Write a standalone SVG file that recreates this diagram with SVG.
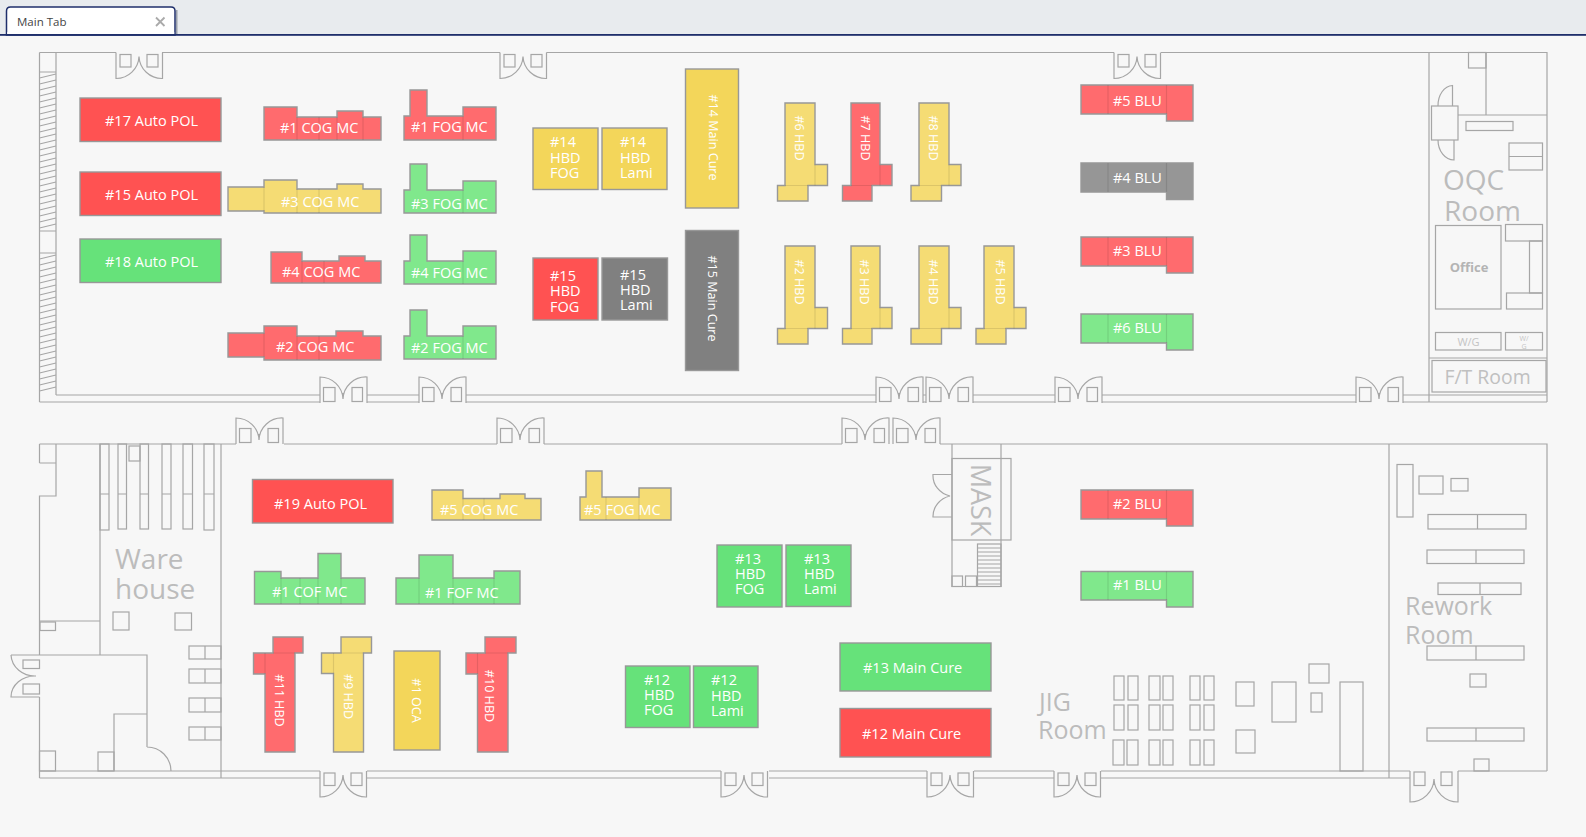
<svg xmlns="http://www.w3.org/2000/svg" xmlns:xlink="http://www.w3.org/1999/xlink" width="1586" height="837" viewBox="0 0 1586 837">
<style>
.w{fill:none;stroke:#a6a6a6;stroke-width:1.2}
.m{stroke:#989898;stroke-width:1.4}
.d{fill:none;stroke:#000;stroke-opacity:.1;stroke-width:1.2}
.r{fill:#ff5252}.r2{fill:#ff6b6e}.y{fill:#f3d65a}.y2{fill:#f5dc74}.g{fill:#66e27a}.g2{fill:#80e88c}.k{fill:#808080}.k2{fill:#969696}
text{font-family:"Open Sans","Noto Sans","Liberation Sans",sans-serif}
.t{fill:#fff;font-size:14.5px}
.v{fill:#fff;font-size:12.6px;text-anchor:middle}
.l{fill:#bcbcbc;font-size:28px}
</style>
<defs>
<g id="doorDown" class="w"><path d="M0 0V26A23 23 0 0 0 23 4M46.500 0V26A23 23 0 0 1 23 4V9"/><rect x="4" y="2" width="11" height="12.500"/><rect x="31" y="2" width="11" height="12.500"/></g>
<g id="doorUp" class="w"><path d="M0 26V0A23 23 0 0 1 23 22M47 26V0A23 23 0 0 0 23 22V16"/><rect x="3.500" y="10.500" width="11.500" height="14"/><rect x="32" y="10.500" width="10.500" height="14"/></g>
</defs>
<rect width="1586" height="837" fill="#f7f7f7"/>
<g id="tabbar">
<rect width="1586" height="34" fill="#e8ebee"/>
<path d="M6.500 35V11Q6.500 7 10.500 7H171Q175 7 175 11V35Z" fill="#fff" stroke="#1f2f6b" stroke-width="1.500"/>
<rect x="176" y="10" width="1.500" height="24" fill="#9aa0aa"/>
<rect y="34" width="1586" height="1.800" fill="#1f2f6b"/>
<rect x="7.300" y="32" width="166.900" height="2" fill="#fff"/>
<text x="17" y="26" font-size="11.500" fill="#444">Main Tab</text>
<path d="M156 17.500L164.500 26M164.500 17.500L156 26" stroke="#aaa" stroke-width="1.800" fill="none"/>
</g>
<g id="floorplan">
<g id="upper-walls" class="w">
<path d="M39.500 52.500H116M162 52.500H500M546.500 52.500H1114M1161 52.500H1547V402M39.500 52.500V402M56 52.500V395M39.500 72H56M39.500 231H56M39.500 253H56"/>
<path d="M56 395H320M367 395H419M466 395H876M923 395H926M973 395H1055M1102 395H1356M1403 395H1547"/>
<path d="M39.500 402H320M367 402H419M466 402H876M923 402H926M973 402H1055M1102 402H1356M1403 402H1547"/>
<path d="M39.500 78l16.500-4M39.500 84l16.500-4M39.500 90l16.500-4M39.500 96l16.500-4M39.500 102l16.500-4M39.500 108l16.500-4M39.500 114l16.500-4M39.500 120l16.500-4M39.500 126l16.500-4M39.500 132l16.500-4M39.500 138l16.500-4M39.500 144l16.500-4M39.500 150l16.500-4M39.500 156l16.500-4M39.500 162l16.500-4M39.500 168l16.500-4M39.500 174l16.500-4M39.500 180l16.500-4M39.500 186l16.500-4M39.500 192l16.500-4M39.500 198l16.500-4M39.500 204l16.500-4M39.500 210l16.500-4M39.500 216l16.500-4M39.500 222l16.500-4M39.500 228l16.500-4"/>
<path d="M39.500 259l16.500-4M39.500 265l16.500-4M39.500 271l16.500-4M39.500 277l16.500-4M39.500 283l16.500-4M39.500 289l16.500-4M39.500 295l16.500-4M39.500 301l16.500-4M39.500 307l16.500-4M39.500 313l16.500-4M39.500 319l16.500-4M39.500 325l16.500-4M39.500 331l16.500-4M39.500 337l16.500-4M39.500 343l16.500-4M39.500 349l16.500-4M39.500 355l16.500-4M39.500 361l16.500-4M39.500 367l16.500-4M39.500 373l16.500-4M39.500 379l16.500-4M39.500 385l16.500-4M39.500 391l16.500-4"/>
<use xlink:href="#doorDown" href="#doorDown" x="116" y="52.500"/>
<use xlink:href="#doorDown" href="#doorDown" x="500" y="52.500"/>
<use xlink:href="#doorDown" href="#doorDown" x="1114" y="52.500"/>
<use xlink:href="#doorUp" href="#doorUp" x="320" y="377"/>
<use xlink:href="#doorUp" href="#doorUp" x="419" y="377"/>
<use xlink:href="#doorUp" href="#doorUp" x="876" y="377"/>
<use xlink:href="#doorUp" href="#doorUp" x="926" y="377"/>
<use xlink:href="#doorUp" href="#doorUp" x="1055" y="377"/>
<use xlink:href="#doorUp" href="#doorUp" x="1356" y="377"/>
</g>
<g id="oqc-room" class="w">
<path d="M1429 52.500V402M1458 115H1547M1486 52.500V115M1429 358H1547"/>
<rect x="1468.500" y="52.500" width="17.500" height="15.500"/>
<rect x="1431.500" y="106" width="26.500" height="34"/>
<path d="M1452.500 106V85.500A15 20 0 0 0 1438 106M1454 140V160A16 20 0 0 1 1438 140"/>
<rect x="1466" y="121.500" width="47" height="9"/>
<rect x="1509" y="143" width="33.500" height="27"/><path d="M1509 156.500H1542.500"/>
<rect x="1435.500" y="225.500" width="65.500" height="83.500"/>
<rect x="1505.500" y="224.500" width="37" height="16.500"/>
<rect x="1529.500" y="241" width="13" height="52"/>
<rect x="1506.500" y="293" width="36" height="16"/>
<rect x="1435.500" y="332.500" width="65.500" height="17.500"/>
<rect x="1505.500" y="332.500" width="37" height="17.500"/>
<rect x="1432" y="360.500" width="114" height="31.500"/>
</g>
<text class="l" x="1443" y="190">OQC</text>
<text class="l" x="1444" y="221">Room</text>
<text x="1469" y="271.500" font-size="13" font-weight="700" fill="#b4b4b4" text-anchor="middle">Office</text>
<text x="1468.500" y="346" font-size="11" fill="#c4c4c4" text-anchor="middle">W/G</text>
<text x="1524" y="341" font-size="7" fill="#c4c4c4" text-anchor="middle">W/</text>
<text x="1524" y="348.500" font-size="7" fill="#c4c4c4" text-anchor="middle">G</text>
<text x="1444.500" y="384" font-size="19.400" fill="#c0c0c0">F/T Room</text>
<g id="lower-walls" class="w">
<path d="M39.500 444H236M284 444H497M544 444H842M940 444H1547V771M39.500 444V463M56 444V496H39.500V655M39.500 697V778M1389 444V778"/>
<path d="M39.500 771H320M367 771H721M769 771H927M974 771H1054M1101 771H1410M1458 771H1547"/>
<path d="M39.500 778H320M367 778H721M769 778H927M974 778H1054M1101 778H1410"/>
<use xlink:href="#doorUp" href="#doorUp" x="236" y="418"/>
<use xlink:href="#doorUp" href="#doorUp" x="497" y="418"/>
<use xlink:href="#doorUp" href="#doorUp" x="842" y="418"/>
<use xlink:href="#doorUp" href="#doorUp" x="893" y="418"/>
<use xlink:href="#doorDown" href="#doorDown" x="320" y="771"/>
<use xlink:href="#doorDown" href="#doorDown" x="721" y="771"/>
<use xlink:href="#doorDown" href="#doorDown" x="927" y="771"/>
<use xlink:href="#doorDown" href="#doorDown" x="1054" y="771"/>
<path d="M1410 771V802A24 24 0 0 0 1434 779M1458 771V802A24 24 0 0 1 1434 779V785"/>
<rect x="1414" y="772" width="11" height="13.500"/><rect x="1441" y="772" width="11" height="13.500"/>
</g>
<g id="warehouse" class="w">
<path d="M39.500 463H56M100 444V655M39.500 621H100M11 655H147V747M147 714H114V771M147 747A24 24 0 0 1 171 771M221 444V778"/>
<rect x="40" y="622" width="15.500" height="8.500"/>
<path d="M11 655A24 22 0 0 0 36 676A24 21 0 0 0 11 697H39.500"/>
<rect x="23" y="660" width="16.500" height="8.500"/><rect x="23" y="684" width="16.500" height="10"/>
<rect x="39.500" y="751" width="16" height="20"/><rect x="98" y="752" width="16" height="19"/>
<rect x="100" y="444" width="9" height="86"/><rect x="118" y="444" width="8.500" height="85"/><rect x="140" y="444" width="8.500" height="85"/><rect x="162" y="444" width="9" height="85"/><rect x="183" y="444" width="9.500" height="85"/><rect x="204" y="444" width="10" height="86"/>
<path d="M100 494H109M118 494H126.500M140 494H148.500M162 494H171M183 494H192.500M204 494H214"/>
<rect x="129" y="446" width="11" height="15"/>
<rect x="113" y="612" width="16" height="18"/><rect x="175" y="613" width="16.500" height="17"/>
<rect x="189" y="646" width="32" height="13"/><rect x="189" y="669" width="32" height="14"/><rect x="189" y="698" width="32" height="14"/><rect x="189" y="727" width="32" height="13"/>
<path d="M205 646V659M205 669V683M205 698V712M205 727V740"/>
</g>
<text class="l" x="115" y="568.500">Ware</text>
<text class="l" x="115" y="599">house</text>
<g id="mask-room" class="w">
<path d="M952 444V586.500H1001V444"/>
<rect x="952" y="458.500" width="59" height="81.500"/>
<path d="M952 474.500H933A22 21 0 0 0 950 496A22 21 0 0 0 933 517H952"/>
<rect x="952" y="576" width="10.500" height="10.500"/><rect x="965.500" y="576" width="11" height="10.500"/>
<rect x="977.500" y="544" width="23.500" height="42.500"/>
<path d="M977.500 548H1001M977.500 552H1001M977.500 556H1001M977.500 560H1001M977.500 564H1001M977.500 568H1001M977.500 572H1001M977.500 576H1001M977.500 580H1001M977.500 584H1001"/>
</g>
<text class="l" transform="translate(980.500 500) rotate(90)" text-anchor="middle" y="10" style="font-size:27px">MASK</text>
<g id="jig-room" class="w">
<rect x="1114" y="676" width="10" height="24"/><rect x="1128" y="676" width="10" height="24"/><rect x="1149" y="676" width="11" height="24"/><rect x="1163" y="676" width="10" height="24"/><rect x="1190" y="676" width="10" height="24"/><rect x="1204" y="676" width="10" height="24"/>
<rect x="1114" y="705" width="10" height="25"/><rect x="1128" y="705" width="10" height="25"/><rect x="1149" y="705" width="11" height="25"/><rect x="1163" y="705" width="10" height="25"/><rect x="1190" y="705" width="10" height="25"/><rect x="1204" y="705" width="10" height="25"/>
<rect x="1113" y="740" width="11" height="25"/><rect x="1127" y="740" width="11" height="25"/><rect x="1149" y="740" width="11" height="25"/><rect x="1163" y="740" width="10" height="25"/><rect x="1190" y="740" width="10" height="25"/><rect x="1204" y="740" width="10" height="25"/>
<rect x="1236" y="682" width="18" height="24"/><rect x="1236" y="730" width="19" height="23"/><rect x="1272" y="682" width="24" height="40"/><rect x="1309" y="664" width="20" height="19"/><rect x="1311" y="693" width="11" height="19"/><rect x="1340" y="682" width="23" height="89"/>
</g>
<text class="l" x="1039" y="711" style="font-size:25px">JIG</text>
<text class="l" x="1038" y="739" style="font-size:25px">Room</text>
<g id="rework-room" class="w">
<rect x="1397" y="464.500" width="16" height="52.500"/><rect x="1419" y="476" width="24" height="18"/><rect x="1451" y="478.500" width="17" height="12.500"/>
<rect x="1428" y="514.500" width="98" height="14.500"/><rect x="1427" y="550" width="97" height="13.500"/><rect x="1438" y="583" width="83" height="11.500"/><rect x="1427" y="646" width="97" height="14"/><rect x="1427" y="728" width="97" height="13"/>
<path d="M1477.500 514.500V529M1476 550V563.500M1480 583V594.500M1476 646V660M1476 728V741"/>
<rect x="1470" y="674" width="16" height="13"/><rect x="1474" y="759" width="15" height="12"/>
</g>
<text class="l" x="1405" y="615" style="font-size:25px">Rework</text>
<text class="l" x="1405" y="644" style="font-size:25px">Room</text>
</g>
<g id="connectors"></g>
<g id="n-17-auto-pol"><rect class="m r" x="80" y="98" width="141" height="43.500"/><text class="t" x="105" y="126">#17 Auto POL</text></g>
<g id="n-15-auto-pol"><rect class="m r" x="80" y="172" width="141" height="43.500"/><text class="t" x="105" y="200">#15 Auto POL</text></g>
<g id="n-18-auto-pol"><rect class="m g" x="80" y="239" width="141" height="43.500"/><text class="t" x="105" y="267">#18 Auto POL</text></g>
<g id="n-19-auto-pol"><rect class="m r" x="252.500" y="479.500" width="140.500" height="43.500"/><text class="t" x="274" y="509">#19 Auto POL</text></g>
<g id="n-1-cog-mc"><path class="m r2" d="M264 107H297V117H337V111H363V117H381V140H264Z"/><path class="d" d="M297 117V140M319 117V140M337 117V140M363 117V140"/><text class="t" x="280" y="133">#1 COG MC</text></g>
<g id="n-3-cog-mc"><path class="m y2" d="M228 187H264V180H297V189H337V184H363V189H381V213H264V211H228Z"/><path class="d" d="M264 187V211M297 189V213M319 189V213"/><text class="t" x="281" y="207">#3 COG MC</text></g>
<g id="n-4-cog-mc"><path class="m r2" d="M271 252H302V261H339V256H365V261H381V283H271Z"/><path class="d" d="M302 261V283M324 261V283"/><text class="t" x="282" y="277">#4 COG MC</text></g>
<g id="n-2-cog-mc"><path class="m r2" d="M228 333H264V326H297V336H336V331H363V336H381V360H264V357H228Z"/><path class="d" d="M264 333V357M297 336V360M319 336V360"/><text class="t" x="276" y="352">#2 COG MC</text></g>
<g id="n-5-cog-mc"><path class="m y2" d="M432 490H463V498.500H500V494H525V498.500H541V520H432Z"/><path class="d" d="M463 498.500V520M484 498.500V520"/><text class="t" x="440" y="515">#5 COG MC</text></g>
<g id="n-1-fog-mc"><path class="m r2" d="M404 116H410V90H427V116H463V107H496V140H404Z"/><path class="d" d="M463 116V140"/><text class="t" x="411" y="132">#1 FOG MC</text></g>
<g id="n-3-fog-mc"><path class="m g2" d="M404 190H410V164H427V190H463V181H496V213H404Z"/><path class="d" d="M463 190V213"/><text class="t" x="411" y="209">#3 FOG MC</text></g>
<g id="n-4-fog-mc"><path class="m g2" d="M404 261H410V235H427V261H463V251H496V284H404Z"/><path class="d" d="M463 261V284"/><text class="t" x="411" y="278">#4 FOG MC</text></g>
<g id="n-2-fog-mc"><path class="m g2" d="M404 336H410V310H427V336H463V326H496V359H404Z"/><path class="d" d="M463 336V359"/><text class="t" x="411" y="353">#2 FOG MC</text></g>
<g id="n-5-fog-mc"><path class="m y2" d="M580 497H586V471H602V497H639V488H671V520H580Z"/><path class="d" d="M639 497V520M606 497V520"/><text class="t" x="584" y="515">#5 FOG MC</text></g>
<g id="n-1-cof-mc"><path class="m g2" d="M254.500 571.500H281V578H318V553.500H341V578H365V604H254.500Z"/><path class="d" d="M281 578V604M300 578V604M318 578V604M341 578V604"/><text class="t" x="272" y="597">#1 COF MC</text></g>
<g id="n-1-fof-mc"><path class="m g2" d="M396 578H419V555H453V578H494V571H520V604H396Z"/><path class="d" d="M419 578V604M453 578V604M494 578V604"/><text class="t" x="425" y="598">#1 FOF MC</text></g>
<g id="n-14-hbd-fog"><rect class="m y" x="533" y="128" width="65" height="61.500"/><text class="t"><tspan x="550" y="147">#14</tspan><tspan x="550" y="162.500">HBD</tspan><tspan x="550" y="178">FOG</tspan></text></g>
<g id="n-14-hbd-lami"><rect class="m y" x="602" y="128" width="65" height="61.500"/><text class="t"><tspan x="620" y="147">#14</tspan><tspan x="620" y="162.500">HBD</tspan><tspan x="620" y="178">Lami</tspan></text></g>
<g id="n-15-hbd-fog"><rect class="m r" x="533" y="258" width="65" height="62"/><text class="t"><tspan x="550" y="281">#15</tspan><tspan x="550" y="296">HBD</tspan><tspan x="550" y="312">FOG</tspan></text></g>
<g id="n-15-hbd-lami"><rect class="m k" x="602" y="258" width="65.500" height="62"/><text class="t"><tspan x="620" y="280">#15</tspan><tspan x="620" y="295">HBD</tspan><tspan x="620" y="310">Lami</tspan></text></g>
<g id="n-13-hbd-fog"><rect class="m g" x="717" y="545" width="65" height="62"/><text class="t"><tspan x="735" y="563.500">#13</tspan><tspan x="735" y="578.500">HBD</tspan><tspan x="735" y="594">FOG</tspan></text></g>
<g id="n-13-hbd-lami"><rect class="m g" x="786" y="545" width="65" height="61.500"/><text class="t"><tspan x="804" y="563.500">#13</tspan><tspan x="804" y="578.500">HBD</tspan><tspan x="804" y="594">Lami</tspan></text></g>
<g id="n-12-hbd-fog"><rect class="m g" x="625.500" y="666" width="64.500" height="61.500"/><text class="t"><tspan x="644" y="685">#12</tspan><tspan x="644" y="700">HBD</tspan><tspan x="644" y="715">FOG</tspan></text></g>
<g id="n-12-hbd-lami"><rect class="m g" x="693.500" y="666" width="64.500" height="61.500"/><text class="t"><tspan x="711" y="685">#12</tspan><tspan x="711" y="701">HBD</tspan><tspan x="711" y="716">Lami</tspan></text></g>
<g id="n-14-main-cure"><rect class="m y" x="685.500" y="69" width="53" height="139"/><text class="v" transform="translate(713.500 137.500) rotate(90)" y="5">#14 Main Cure</text></g>
<g id="n-15-main-cure"><rect class="m k" x="685.500" y="230.500" width="53" height="140"/><text class="v" transform="translate(713 298.500) rotate(90)" y="5">#15 Main Cure</text></g>
<g id="n-13-main-cure"><rect class="m g" x="840" y="643" width="151" height="48"/><text class="t" x="863" y="673">#13 Main Cure</text></g>
<g id="n-12-main-cure"><rect class="m r" x="840" y="708.500" width="151" height="48.500"/><text class="t" x="862" y="739">#12 Main Cure</text></g>
<g id="n-6-hbd"><path class="m y2" d="M785 103H815V164.500H827.500V185.500H808V201H777.500V185.500H785Z"/><path class="d" d="M815 164.500V185.500M785 185.500H808"/><text class="v" transform="translate(800 138) rotate(90)" y="5">#6 HBD</text></g>
<g id="n-7-hbd"><path class="m r2" d="M851 103H880V164.500H892V185.500H872V201H842.500V185.500H851Z"/><path class="d" d="M880 164.500V185.500M851 185.500H872"/><text class="v" transform="translate(866 138) rotate(90)" y="5">#7 HBD</text></g>
<g id="n-8-hbd"><path class="m y2" d="M919 103H949V164.500H961V185.500H941.500V201H911V185.500H919Z"/><path class="d" d="M949 164.500V185.500M919 185.500H941.500"/><text class="v" transform="translate(934 138) rotate(90)" y="5">#8 HBD</text></g>
<g id="n-2-hbd"><path class="m y2" d="M785 246H815V307.500H827.500V328.500H808V344H777.500V328.500H785Z"/><path class="d" d="M815 307.500V328.500M785 328.500H808"/><text class="v" transform="translate(800 282) rotate(90)" y="5">#2 HBD</text></g>
<g id="n-3-hbd"><path class="m y2" d="M851 246H880V307.500H892V328.500H872V344H842.500V328.500H851Z"/><path class="d" d="M880 307.500V328.500M851 328.500H872"/><text class="v" transform="translate(865 282) rotate(90)" y="5">#3 HBD</text></g>
<g id="n-4-hbd"><path class="m y2" d="M919 246H949V307.500H961V328.500H941.500V344H911V328.500H919Z"/><path class="d" d="M949 307.500V328.500M919 328.500H941.500"/><text class="v" transform="translate(934 282) rotate(90)" y="5">#4 HBD</text></g>
<g id="n-5-hbd"><path class="m y2" d="M984 246H1014V307.500H1026V328.500H1006V344H976V328.500H984Z"/><path class="d" d="M1014 307.500V328.500M984 328.500H1006"/><text class="v" transform="translate(1000.500 282) rotate(90)" y="5">#5 HBD</text></g>
<g id="n-11-hbd"><path class="m r2" d="M273 637H303V653H295V752H265V674H253.500V653H273Z"/><path class="d" d="M265 653V674M273 653H295"/><text class="v" transform="translate(280 700.500) rotate(90)" y="5">#11 HBD</text></g>
<g id="n-9-hbd"><path class="m y2" d="M341 637H371.500V653H363.500V752H333.500V673.500H321.500V653H341Z"/><path class="d" d="M333.500 653V673.500M341 653H363.500"/><text class="v" transform="translate(349 696.500) rotate(90)" y="5">#9 HBD</text></g>
<g id="n-1-oca"><rect class="m y" x="394" y="651" width="46" height="99"/><text class="v" transform="translate(416.500 700.500) rotate(90)" y="5">#1 OCA</text></g>
<g id="n-10-hbd"><path class="m r2" d="M485 637H516V653H508V752H477.500V674H466V653H485Z"/><path class="d" d="M477.500 653V674M485 653H508"/><text class="v" transform="translate(490 696) rotate(90)" y="5">#10 HBD</text></g>
<g id="n-5-blu"><path class="m r2" d="M1081 85H1193V121H1166.500V114H1081Z"/><path class="d" d="M1108 85V114M1166.500 85V114"/><text class="t" x="1113" y="106">#5 BLU</text></g>
<g id="n-4-blu"><path class="m k2" d="M1081 163H1193V199.500H1166.500V192H1081Z"/><path class="d" d="M1108 163V192M1166.500 163V192"/><text class="t" x="1113" y="183">#4 BLU</text></g>
<g id="n-3-blu"><path class="m r2" d="M1081 237H1193V273H1166.500V266H1081Z"/><path class="d" d="M1108 237V266M1166.500 237V266"/><text class="t" x="1113" y="256">#3 BLU</text></g>
<g id="n-6-blu"><path class="m g2" d="M1081 314H1193V350H1166.500V343H1081Z"/><path class="d" d="M1108 314V343M1166.500 314V343"/><text class="t" x="1113" y="333">#6 BLU</text></g>
<g id="n-2-blu"><path class="m r2" d="M1081 490H1193V526H1166.500V519H1081Z"/><path class="d" d="M1108 490V519M1166.500 490V519"/><text class="t" x="1113" y="509">#2 BLU</text></g>
<g id="n-1-blu"><path class="m g2" d="M1081 571.500H1193V607H1166.500V600H1081Z"/><path class="d" d="M1108 571.500V600M1166.500 571.500V600"/><text class="t" x="1113" y="590">#1 BLU</text></g>
</svg>
